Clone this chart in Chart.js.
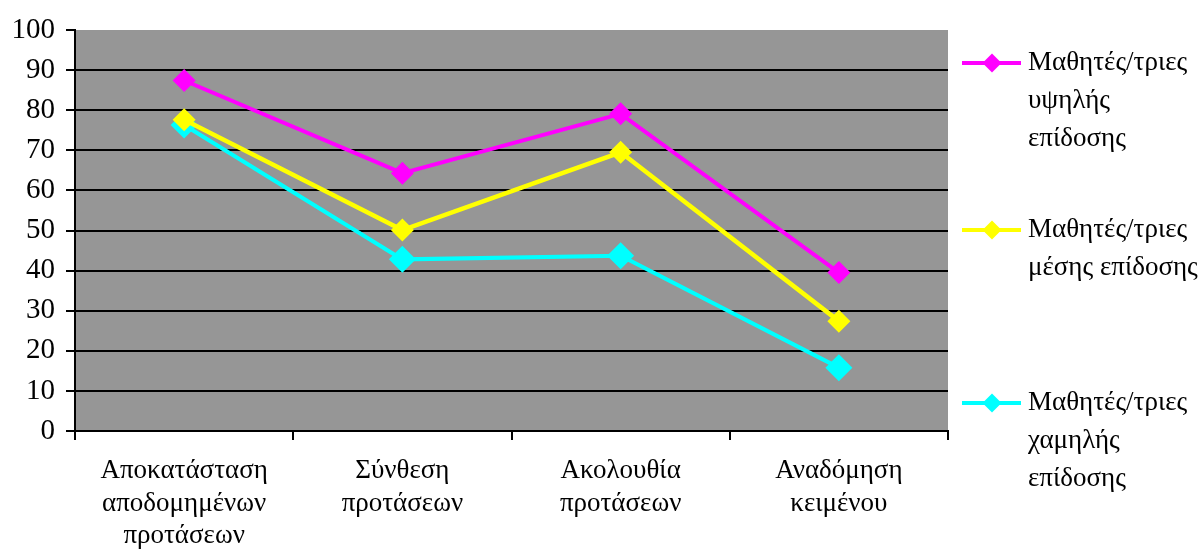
<!DOCTYPE html>
<html>
<head>
<meta charset="utf-8">
<script src="https://cdn.jsdelivr.net/npm/chart.js@4/dist/chart.umd.min.js"></script>
<style>
html,body{margin:0;padding:0;background:#fff;}
#wrap{width:1203px;height:558px;position:relative;}
</style>
</head>
<body>
<div id="wrap"><canvas id="c" width="1203" height="558"></canvas></div>
<script>
const categories = [
  ["Αποκατάσταση", "αποδομημένων", "προτάσεων"],
  ["Σύνθεση", "προτάσεων"],
  ["Ακολουθία", "προτάσεων"],
  ["Αναδόμηση", "κειμένου"]
];
const seriesNames = [
  ["Μαθητές/τριες", "υψηλής", "επίδοσης"],
  ["Μαθητές/τριες", "μέσης επίδοσης"],
  ["Μαθητές/τριες", "χαμηλής", "επίδοσης"]
];
const highValues = [87.4, 64.3, 79.1, 39.5];
const midValues = [77.6, 50.1, 69.5, 27.4];
const lowValues = [76.3, 42.8, 43.7, 15.8];
const yTicks = [0, 10, 20, 30, 40, 50, 60, 70, 80, 90, 100];

const FONT = '"Liberation Serif", "Times New Roman", serif';
const colors = ['#FF00FF', '#FFFF00', '#00FFFF'];

const bgPlugin = {
  id: 'plotBg',
  beforeDraw(chart) {
    const {ctx, chartArea: a} = chart;
    ctx.save();
    ctx.fillStyle = '#969696';
    ctx.fillRect(a.left, a.top, a.right - a.left, a.bottom - a.top);
    ctx.restore();
  }
};

const legendPlugin = {
  id: 'sideLegend',
  afterDraw(chart) {
    const ctx = chart.ctx;
    const ys = [63, 230, 403];
    ctx.save();
    chart.data.datasets.forEach((ds, i) => {
      const y = ys[i];
      ctx.strokeStyle = ds.borderColor;
      ctx.lineWidth = 4;
      ctx.beginPath();
      ctx.moveTo(962, y);
      ctx.lineTo(1021, y);
      ctx.stroke();
      ctx.fillStyle = ds.borderColor;
      const r = 9.5;
      ctx.beginPath();
      ctx.moveTo(992, y - r);
      ctx.lineTo(992 + r, y);
      ctx.lineTo(992, y + r);
      ctx.lineTo(992 - r, y);
      ctx.closePath();
      ctx.fill();
      ctx.fillStyle = '#000';
      ctx.font = '27px ' + FONT;
      ctx.textBaseline = 'middle';
      ctx.textAlign = 'left';
      seriesNames[i].forEach((line, k) => {
        ctx.fillText(line, 1028, y + k * 38);
      });
    });
    ctx.restore();
  }
};

const mk = (idx, data, bw, pr) => ({
  label: seriesNames[idx].join(' '),
  data: data,
  borderColor: colors[idx],
  backgroundColor: colors[idx],
  borderWidth: bw,
  pointStyle: 'rectRot',
  pointRadius: pr,
  pointHoverRadius: pr,
  pointBorderWidth: 0,
  tension: 0
});

function draw() {
  new Chart(document.getElementById('c'), {
    type: 'line',
    data: {
      labels: categories,
      datasets: [
        mk(0, highValues, 4, 11.5),
        mk(1, midValues, 4.5, 11.5),
        mk(2, lowValues, 4, 13.5)
      ]
    },
    options: {
      responsive: false,
      animation: false,
      devicePixelRatio: 1,
      layout: { padding: { top: 30, right: 255, left: 0, bottom: 0 } },
      plugins: { legend: { display: false }, tooltip: { enabled: false } },
      scales: {
        x: {
          offset: true,
          grid: { offset: true, drawOnChartArea: false, drawTicks: true, tickLength: 9, color: '#000', lineWidth: 2 },
          border: { display: true, color: '#000', width: 2 },
          ticks: { color: '#000', font: { family: FONT, size: 27 }, padding: 15, maxRotation: 0, autoSkip: false, lineHeight: 1.41 },
          afterFit(s) { s.height = 127; }
        },
        y: {
          min: 0, max: 100,
          afterBuildTicks(s) { s.ticks = yTicks.map(v => ({ value: v })); },
          grid: {
            color: (c) => (c.tick && c.tick.value === 100) ? 'rgba(0,0,0,0)' : '#000',
            tickColor: '#000',
            lineWidth: 2,
            tickLength: 9,
            drawTicks: true
          },
          border: { display: true, color: '#000', width: 2 },
          ticks: { color: '#000', font: { family: FONT, size: 29 }, padding: 11 },
          afterFit(s) { s.width = 75; }
        }
      }
    },
    plugins: [bgPlugin, legendPlugin]
  });
}

if (document.fonts && document.fonts.load) {
  document.fonts.load('27px "Liberation Serif"', 'Αα01').then(draw, draw);
} else {
  draw();
}
</script>
</body>
</html>
